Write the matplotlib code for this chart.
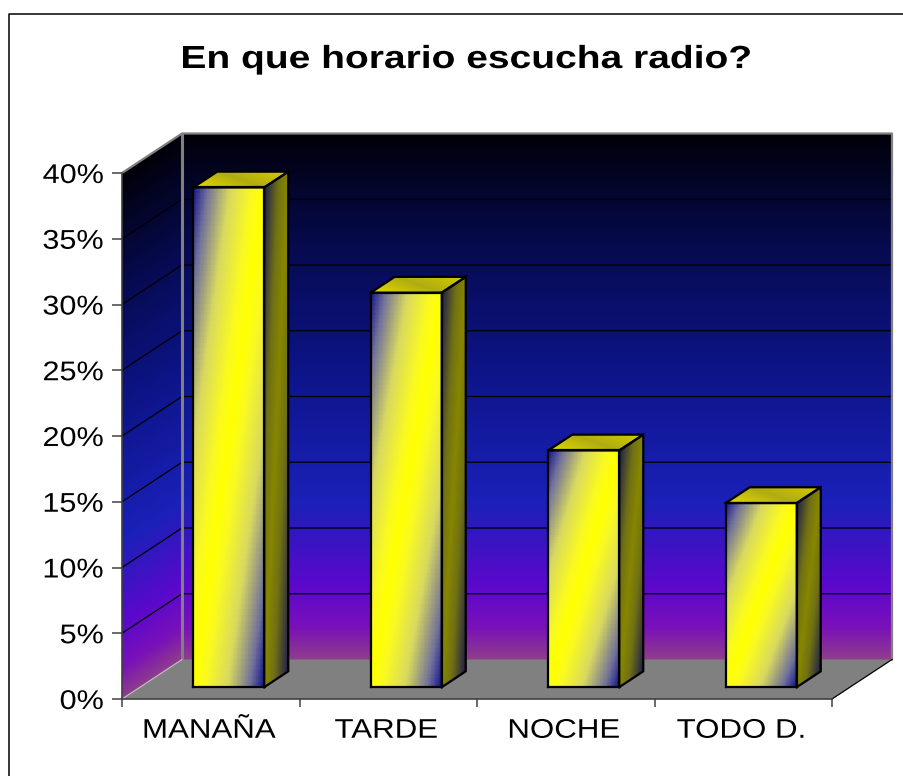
import numpy as np
import matplotlib
matplotlib.use("Agg")
import matplotlib.pyplot as plt
import matplotlib.patheffects as pe
from matplotlib.colors import LinearSegmentedColormap
from matplotlib.lines import Line2D
from matplotlib.transforms import Affine2D

# data
categories = ["MANAÑA", "TARDE", "NOCHE", "TODO D."]
values = [38, 30, 18, 14]
y_ticks = [0, 5, 10, 15, 20, 25, 30, 35, 40]
title = "En que horario escucha radio?"

W, H = 904, 776
plt.rcParams["font.family"] = ["Liberation Sans", "DejaVu Sans"]


class StretchX(pe.AbstractPathEffect):
    # the reference text is wider than the font, widen it around a pixel x
    def __init__(self, anchor, factor):
        super().__init__()
        self.anchor = anchor
        self.factor = factor

    def draw_path(self, renderer, gc, tpath, affine, rgbFace=None):
        stretch = Affine2D().translate(-self.anchor, 0).scale(self.factor, 1).translate(self.anchor, 0)
        renderer.draw_path(gc, tpath, affine + stretch, rgbFace)


fig = plt.figure(figsize=(W / 100, H / 100), dpi=100)
fig.patch.set_facecolor("white")

# frame round the chart: top and left edges only
fig.add_artist(Line2D([9 / W, 9 / W, 1], [0, 1 - 14 / H, 1 - 14 / H], transform=fig.transFigure,
                      color="black", lw=1.1))
fig.text(466.5 / W, 1 - 60 / H, title, ha="center", va="center", fontsize=23, fontweight="bold",
         path_effects=[StretchX(466.5, 1.22)])

# axes = front plane of the 3d box
left, right, top, bottom = 122, 832, 173, 699
ax = fig.add_axes([left / W, 1 - bottom / H, (right - left) / W, (bottom - top) / H])
ax.set_xlim(0, 4)
ax.set_ylim(0, 40)
ax.patch.set_visible(False)

# box depth in data units
depth_x = 60 / ((right - left) / 4)
depth_y = 39.5 / ((bottom - top) / 40)

wall_cmap = LinearSegmentedColormap.from_list("wall", [
    (0.0, "#8e3c8c"), (0.06, "#7a10b8"), (0.14, "#5a08cc"), (0.30, "#1a20b8"),
    (0.55, "#0c1488"), (0.78, "#060a50"), (1.0, "#000008")])
bar_cmap = LinearSegmentedColormap.from_list("bar", [
    (0.0, "#14148c"), (0.1, "#70709a"), (0.26, "#d8d860"), (0.42, "#fafa20"), (0.5, "#ffff00"),
    (0.58, "#fafa20"), (0.74, "#d8d860"), (0.9, "#70709a"), (1.0, "#10108c")])
side_cmap = LinearSegmentedColormap.from_list("side", [
    (0.0, "#1c1c4c"), (0.3, "#707014"), (0.5, "#868600"), (0.7, "#707014"), (1.0, "#1c1c4c")])
top_cmap = LinearSegmentedColormap.from_list("top", [
    (0.0, "#e4dc00"), (0.5, "#b0ac10"), (1.0, "#d4cc00")])


def mesh(x0, y0, ux, uy, vx, vy, colors, cmap, zorder, n=90):
    # parallelogram starting at (x0, y0) with edges u, v, coloured by colors(s, t)
    s, t = np.meshgrid(np.linspace(0, 1, n + 1), np.linspace(0, 1, n + 1))
    X = x0 + s * ux + t * vx
    Y = y0 + s * uy + t * vy
    sc, tc = np.meshgrid((s[0, :-1] + s[0, 1:]) / 2, (t[:-1, 0] + t[1:, 0]) / 2)
    ax.pcolormesh(X, Y, colors(sc, tc), cmap=cmap, vmin=0, vmax=1, shading="flat",
                  zorder=zorder, clip_on=False, antialiased=False, linewidth=0, edgecolors="none")


def outline(pts, color="black", lw=1.6, zorder=5):
    xs, ys = zip(*pts)
    ax.plot(list(xs) + [xs[0]], list(ys) + [ys[0]], color=color, lw=lw, zorder=zorder,
            clip_on=False, solid_joinstyle="miter")


# walls
ymax = y_ticks[-1]
mesh(depth_x, depth_y, 4, 0, 0, ymax, lambda s, t: t, wall_cmap, 1, n=260)
mesh(0, 0, depth_x, depth_y, 0, ymax, lambda s, t: t, wall_cmap, 1, n=260)

# floor
ax.fill([0, 4, 4 + depth_x, depth_x], [0, 0, depth_y, depth_y], color="#808080", zorder=1.5,
        clip_on=False, lw=0)

# gridlines, on side wall and back wall
for v in y_ticks[1:-1]:
    ax.plot([0, depth_x, 4 + depth_x], [v, v + depth_y, v + depth_y], color="black", lw=0.9,
            zorder=2, clip_on=False)

# wall edges
ax.plot([0, depth_x, 4 + depth_x, 4 + depth_x], [ymax, ymax + depth_y, ymax + depth_y, depth_y],
        color="#808080", lw=1.6, zorder=2.5, clip_on=False)
ax.plot([4, 4 + depth_x], [0, depth_y], color="black", lw=0.9, zorder=2.5, clip_on=False)
ax.plot([depth_x, depth_x], [depth_y, ymax + depth_y], color="#808080", lw=2.2, zorder=2.5,
        clip_on=False)
ax.plot([0, depth_x], [0, depth_y], color="#c0c0c0", lw=0.8, zorder=2.5, clip_on=False)

# bars
bar_w = 0.4
offs_x = depth_x * 0.3
offs_y = depth_y * 0.3
bar_dx = depth_x * 0.4
bar_dy = depth_y * 0.4
for i, v in enumerate(values):
    x0 = i + 0.5 - bar_w / 2 + offs_x
    x1 = x0 + bar_w
    y0 = offs_y
    y1 = y0 + v
    diag = lambda s, t: (s + (1 - t)) / 2
    mesh(x0, y0, bar_w, 0, 0, v, diag, bar_cmap, 3)
    mesh(x1, y0, bar_dx, bar_dy, 0, v, diag, side_cmap, 3)
    mesh(x0, y1, bar_w, 0, bar_dx, bar_dy, lambda s, t: (s + t) / 2, top_cmap, 3)
    outline([(x0, y0), (x1, y0), (x1, y1), (x0, y1)])
    outline([(x1, y0), (x1 + bar_dx, y0 + bar_dy), (x1 + bar_dx, y1 + bar_dy), (x1, y1)])
    outline([(x0, y1), (x1, y1), (x1 + bar_dx, y1 + bar_dy), (x0 + bar_dx, y1 + bar_dy)])

# axes and labels
for name in ["top", "right"]:
    ax.spines[name].set_visible(False)
for name in ["left", "bottom"]:
    ax.spines[name].set_color("#404040")
    ax.spines[name].set_linewidth(1.2)
    ax.spines[name].set_zorder(6)
ax.set_yticks(y_ticks, [f"{v}%" for v in y_ticks], fontsize=19.5)
ax.set_xticks(range(5), [""] * 5)
ax.set_xticks([i + 0.5 for i in range(4)], categories, minor=True, fontsize=19.4)
ax.tick_params(axis="y", length=7, width=1.2, color="#505050", pad=6)
ax.tick_params(axis="x", which="major", length=5.5, width=1.2, color="#505050")
ax.tick_params(axis="x", which="minor", length=0, pad=13.5)

for lab in ax.get_yticklabels():
    lab.set_path_effects([StretchX(left - 18, 1.13)])
for i, lab in enumerate(ax.get_xticklabels(minor=True)):
    cx = ax.transData.transform((i + 0.5, 0))[0]
    lab.set_path_effects([StretchX(cx + 12.5, 1.16)])

fig.savefig("out.png", dpi=100)
